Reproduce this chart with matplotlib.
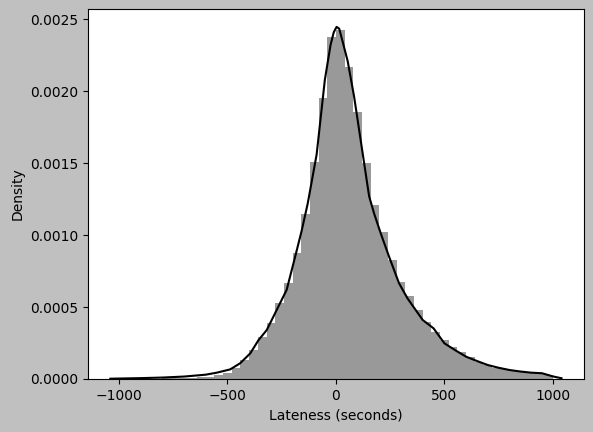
import numpy as np
from matplotlib import pyplot as plt

# histogram: 50 bins of 40 s from -1000 to 1000, density per bin
bin_left = np.arange(-1000, 1000, 40)
bin_density = [
    0.000001, 0.000001, 0.000002, 0.000002, 0.000003, 0.000004, 0.000005,
    0.000006, 0.000008, 0.000012, 0.000017, 0.000025, 0.000042, 0.000076,
    0.000132, 0.000201, 0.000294, 0.000387, 0.000525, 0.000665, 0.000877,
    0.00115, 0.00151, 0.00195, 0.002377,
    0.002424, 0.00217, 0.001856, 0.0015, 0.00121, 0.00102, 0.00083,
    0.000676, 0.000576, 0.000479, 0.000398, 0.000328, 0.000271, 0.000224,
    0.000188, 0.000153, 0.000118, 0.000097, 0.000076, 0.000066, 0.000059,
    0.000052, 0.000049, 0.000045, 0.000028,
]

# kde curve
kde_x = [-1040, -900, -800, -700, -600, -549, -487, -441, -395, -357, -319,
         -273, -227, -188, -158, -130, -89, -51, -25, -10, 3, 15, 30, 54,
         84, 107, 130, 153, 176, 207, 245, 291, 330, 400, 450, 500, 550,
         600, 650, 700, 750, 800, 850, 900, 950, 1000, 1040]
kde_y = [0.000002, 0.000006, 0.00001, 0.000017, 0.00003, 0.000044,
         0.000067, 0.00011, 0.000178, 0.00027, 0.00034, 0.00048, 0.00062,
         0.00085, 0.00103, 0.00122, 0.00156, 0.00208, 0.00232, 0.00241,
         0.002447, 0.002435, 0.00235, 0.00221, 0.00196, 0.00173, 0.0015,
         0.00127, 0.00115, 0.00101, 0.00085, 0.000665, 0.00056, 0.00041,
         0.000352, 0.000248, 0.0002, 0.000155, 0.000125, 0.000097,
         0.000078, 0.0000625, 0.000052, 0.000044, 0.00004, 0.000018,
         0.000005]

fig = plt.figure(figsize=(5.93, 4.32), dpi=100, facecolor='#c0c0c0')
ax = fig.add_axes([0.148, 0.1227, 0.837, 0.856])

ax.bar(bin_left, bin_density, width=40, align='edge', color='black',
       alpha=0.4, linewidth=0)
ax.plot(kde_x, kde_y, color='black', linewidth=1.5)

ax.set_xlim(-1144, 1144)
ax.set_ylim(0, 0.00257)
ax.set_xticks([-1000, -500, 0, 500, 1000])
ax.set_xlabel('Lateness (seconds)')
ax.set_ylabel('Density')

fig.savefig('out.png', dpi=100, facecolor=fig.get_facecolor())
